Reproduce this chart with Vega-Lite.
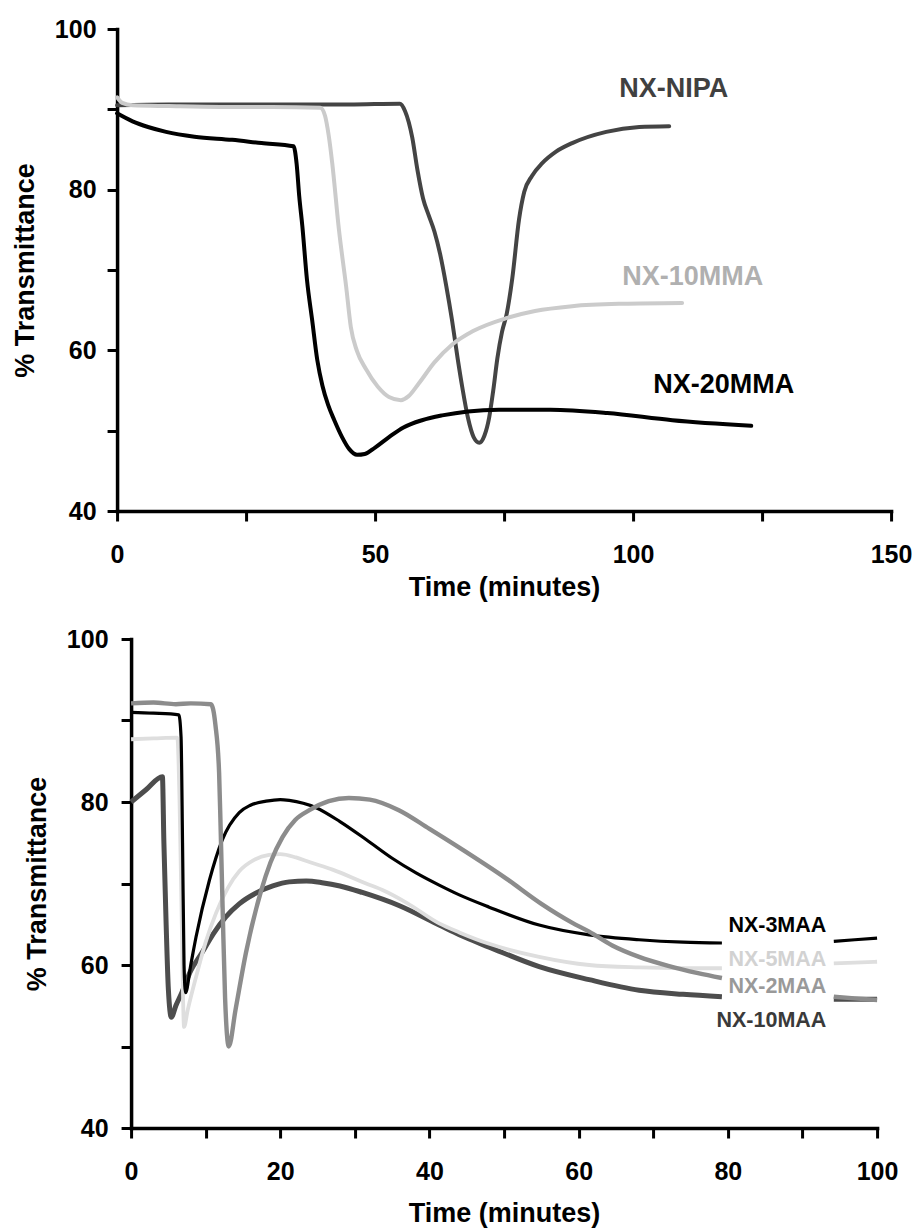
{
"$schema": "https://vega.github.io/schema/vega-lite/v6.json",
"background": "white",
"padding": {"left": 11, "top": 17, "right": 5, "bottom": 5},
"center": true,
"spacing": 27,
"config": {
  "font": "Liberation Sans",
  "view": {"stroke": null},
  "axis": {
    "grid": false,
    "domainColor": "#000000", "domainWidth": 3.5, "domainCap": "square",
    "tickColor": "#000000", "tickWidth": 3, "tickSize": 10,
    "labelFont": "Liberation Sans", "labelFontWeight": "bold", "labelFontSize": 25, "labelColor": "#000000",
    "labelOverlap": false, "labelFlush": false,
    "titleFont": "Liberation Sans", "titleFontWeight": "bold", "titleFontSize": 27, "titleColor": "#000000"
  }
},
"vconcat": [
  {
    "width": 774, "height": 482,
    "encoding": {
      "x": {"field": "t", "type": "quantitative", "title": "Time (minutes)",
            "scale": {"domain": [0, 150], "nice": false, "zero": false},
            "axis": {"values": [0,25,50,75,100,125,150], "labelExpr": "datum.value % 50 == 0 ? datum.label : ''", "labelPadding": 21, "titlePadding": 7}},
      "y": {"field": "v", "type": "quantitative", "title": "% Transmittance",
            "scale": {"domain": [40, 100], "nice": false, "zero": false},
            "axis": {"values": [40,50,60,70,80,90,100], "labelExpr": "datum.value % 20 == 0 ? datum.label : ''", "labelPadding": 11, "titlePadding": 15}}
    },
    "layer": [
      {
        "data": {"values": [
          {"s":"NX-NIPA","t":0,"v":90.5},{"s":"NX-NIPA","t":10,"v":90.6},{"s":"NX-NIPA","t":30,"v":90.6},{"s":"NX-NIPA","t":45,"v":90.6},{"s":"NX-NIPA","t":54.8,"v":90.7},{"s":"NX-NIPA","t":55.8,"v":89.8},{"s":"NX-NIPA","t":57.2,"v":86.5},{"s":"NX-NIPA","t":58.2,"v":82.5},{"s":"NX-NIPA","t":59.3,"v":78.9},{"s":"NX-NIPA","t":60.4,"v":76.8},{"s":"NX-NIPA","t":61.5,"v":74.8},{"s":"NX-NIPA","t":62.6,"v":72.0},{"s":"NX-NIPA","t":63.8,"v":68},{"s":"NX-NIPA","t":64.9,"v":63.8},{"s":"NX-NIPA","t":66,"v":59},{"s":"NX-NIPA","t":66.9,"v":55.4},{"s":"NX-NIPA","t":68,"v":51.6},{"s":"NX-NIPA","t":69.1,"v":49.2},{"s":"NX-NIPA","t":70.2,"v":48.5},{"s":"NX-NIPA","t":71.2,"v":49.4},{"s":"NX-NIPA","t":72.1,"v":51.6},{"s":"NX-NIPA","t":72.9,"v":55},{"s":"NX-NIPA","t":73.7,"v":59},{"s":"NX-NIPA","t":74.6,"v":62.3},{"s":"NX-NIPA","t":75.5,"v":64.5},{"s":"NX-NIPA","t":76.6,"v":69},{"s":"NX-NIPA","t":77.9,"v":76.3},{"s":"NX-NIPA","t":78.9,"v":79.7},{"s":"NX-NIPA","t":80.4,"v":81.7},{"s":"NX-NIPA","t":82.4,"v":83.3},{"s":"NX-NIPA","t":85,"v":84.7},{"s":"NX-NIPA","t":88.2,"v":85.8},{"s":"NX-NIPA","t":94.8,"v":87.2},{"s":"NX-NIPA","t":101.2,"v":87.8},{"s":"NX-NIPA","t":107,"v":87.9},
          {"s":"NX-10MMA","t":0,"v":91.5},{"s":"NX-10MMA","t":1,"v":90.8},{"s":"NX-10MMA","t":3,"v":90.5},{"s":"NX-10MMA","t":10,"v":90.4},{"s":"NX-10MMA","t":20,"v":90.3},{"s":"NX-10MMA","t":30,"v":90.3},{"s":"NX-10MMA","t":39.4,"v":90.2},{"s":"NX-10MMA","t":40.3,"v":89.2},{"s":"NX-10MMA","t":41.0,"v":86.8},{"s":"NX-10MMA","t":41.7,"v":83.3},{"s":"NX-10MMA","t":43,"v":75},{"s":"NX-10MMA","t":44.4,"v":67.9},{"s":"NX-10MMA","t":45.3,"v":62.9},{"s":"NX-10MMA","t":46.5,"v":59.9},{"s":"NX-10MMA","t":48.2,"v":57.7},{"s":"NX-10MMA","t":50.5,"v":55.5},{"s":"NX-10MMA","t":52.7,"v":54.2},{"s":"NX-10MMA","t":55,"v":53.8},{"s":"NX-10MMA","t":56.5,"v":54.3},{"s":"NX-10MMA","t":58.5,"v":55.9},{"s":"NX-10MMA","t":61.5,"v":58.5},{"s":"NX-10MMA","t":64.9,"v":60.7},{"s":"NX-10MMA","t":69,"v":62.4},{"s":"NX-10MMA","t":75.4,"v":64.0},{"s":"NX-10MMA","t":81,"v":64.9},{"s":"NX-10MMA","t":88.2,"v":65.5},{"s":"NX-10MMA","t":98,"v":65.8},{"s":"NX-10MMA","t":109.5,"v":65.9},
          {"s":"NX-20MMA","t":0,"v":89.5},{"s":"NX-20MMA","t":3,"v":88.5},{"s":"NX-20MMA","t":6,"v":87.8},{"s":"NX-20MMA","t":9.5,"v":87.2},{"s":"NX-20MMA","t":15,"v":86.6},{"s":"NX-20MMA","t":22.3,"v":86.2},{"s":"NX-20MMA","t":28,"v":85.8},{"s":"NX-20MMA","t":34.2,"v":85.4},{"s":"NX-20MMA","t":34.8,"v":83.2},{"s":"NX-20MMA","t":35.3,"v":79.2},{"s":"NX-20MMA","t":35.9,"v":75.5},{"s":"NX-20MMA","t":36.8,"v":68.8},{"s":"NX-20MMA","t":37.8,"v":63.8},{"s":"NX-20MMA","t":38.8,"v":58.8},{"s":"NX-20MMA","t":39.8,"v":55.6},{"s":"NX-20MMA","t":40.9,"v":53.2},{"s":"NX-20MMA","t":42.1,"v":51.3},{"s":"NX-20MMA","t":43.6,"v":49.2},{"s":"NX-20MMA","t":45,"v":47.7},{"s":"NX-20MMA","t":46.5,"v":47.0},{"s":"NX-20MMA","t":48,"v":47.1},{"s":"NX-20MMA","t":50,"v":47.9},{"s":"NX-20MMA","t":52.7,"v":49.2},{"s":"NX-20MMA","t":55.5,"v":50.4},{"s":"NX-20MMA","t":59.1,"v":51.3},{"s":"NX-20MMA","t":63,"v":51.9},{"s":"NX-20MMA","t":68,"v":52.4},{"s":"NX-20MMA","t":74,"v":52.6},{"s":"NX-20MMA","t":84,"v":52.6},{"s":"NX-20MMA","t":95,"v":52.2},{"s":"NX-20MMA","t":107.6,"v":51.3},{"s":"NX-20MMA","t":122.9,"v":50.6}
        ]},
        "mark": {"type": "line", "interpolate": "monotone", "strokeWidth": 4, "strokeCap": "round"},
        "encoding": {
          "color": {"field": "s", "type": "nominal", "legend": null,
                    "scale": {"domain": ["NX-NIPA","NX-10MMA","NX-20MMA"], "range": ["#444444","#cbcbcb","#000000"]}}
        }
      },
      {
        "data": {"values": [
          {"s":"NX-NIPA","t":97.3,"v":91.5},
          {"s":"NX-10MMA","t":97.9,"v":68.1},
          {"s":"NX-20MMA","t":103.9,"v":54.7}
        ]},
        "mark": {"type": "text", "align": "left", "baseline": "alphabetic", "fontSize": 27, "fontWeight": "bold", "font": "Liberation Sans"},
        "encoding": {
          "text": {"field": "s"},
          "color": {"field": "s", "type": "nominal", "legend": null,
                    "scale": {"domain": ["NX-NIPA","NX-10MMA","NX-20MMA"], "range": ["#404040","#b0b0b0","#000000"]}}
        }
      }
    ],
    "resolve": {"scale": {"color": "independent"}}
  },
  {
    "width": 746, "height": 489,
    "encoding": {
      "x": {"field": "t", "type": "quantitative", "title": "Time (minutes)",
            "scale": {"domain": [0, 100], "nice": false, "zero": false},
            "axis": {"values": [0,10,20,30,40,50,60,70,80,90,100], "labelExpr": "datum.value % 20 == 0 ? datum.label : ''", "labelPadding": 21, "titlePadding": 16}},
      "y": {"field": "v", "type": "quantitative", "title": "% Transmittance",
            "scale": {"domain": [40, 100], "nice": false, "zero": false},
            "axis": {"values": [40,50,60,70,80,90,100], "labelExpr": "datum.value % 20 == 0 ? datum.label : ''", "labelPadding": 13, "titlePadding": 15}}
    },
    "layer": [
      {
        "data": {"values": [
          {"s":"NX-10MAA","g":"a","t":0,"v":80.0},{"s":"NX-10MAA","g":"a","t":2,"v":81.5},{"s":"NX-10MAA","g":"a","t":4.2,"v":83.1},{"s":"NX-10MAA","g":"a","t":4.4,"v":75},{"s":"NX-10MAA","g":"a","t":4.7,"v":65},{"s":"NX-10MAA","g":"a","t":5.0,"v":57},{"s":"NX-10MAA","g":"a","t":5.4,"v":53.6},{"s":"NX-10MAA","g":"a","t":6.0,"v":55},{"s":"NX-10MAA","g":"a","t":6.8,"v":56.6},{"s":"NX-10MAA","g":"a","t":8,"v":59.3},{"s":"NX-10MAA","g":"a","t":9.5,"v":61.5},{"s":"NX-10MAA","g":"a","t":11,"v":63.8},{"s":"NX-10MAA","g":"a","t":12.7,"v":65.9},{"s":"NX-10MAA","g":"a","t":14.5,"v":67.5},{"s":"NX-10MAA","g":"a","t":16.7,"v":68.8},{"s":"NX-10MAA","g":"a","t":19,"v":69.7},{"s":"NX-10MAA","g":"a","t":21.2,"v":70.2},{"s":"NX-10MAA","g":"a","t":23.5,"v":70.3},{"s":"NX-10MAA","g":"a","t":25.6,"v":70.1},{"s":"NX-10MAA","g":"a","t":28,"v":69.7},{"s":"NX-10MAA","g":"a","t":31,"v":68.9},{"s":"NX-10MAA","g":"a","t":35.9,"v":67.3},{"s":"NX-10MAA","g":"a","t":41.3,"v":64.9},{"s":"NX-10MAA","g":"a","t":44,"v":63.7},{"s":"NX-10MAA","g":"a","t":48,"v":62.2},{"s":"NX-10MAA","g":"a","t":54.7,"v":59.8},{"s":"NX-10MAA","g":"a","t":61.4,"v":58.2},{"s":"NX-10MAA","g":"a","t":68.1,"v":56.9},{"s":"NX-10MAA","g":"a","t":74,"v":56.4},{"s":"NX-10MAA","g":"a","t":79.2,"v":56.1},
          {"s":"NX-10MAA","g":"b","t":94.2,"v":55.8},{"s":"NX-10MAA","g":"b","t":97,"v":55.8},{"s":"NX-10MAA","g":"b","t":100,"v":55.8},
          {"s":"NX-5MAA","g":"a","t":0,"v":87.7},{"s":"NX-5MAA","g":"a","t":3,"v":87.8},{"s":"NX-5MAA","g":"a","t":6.2,"v":87.9},{"s":"NX-5MAA","g":"a","t":6.5,"v":80},{"s":"NX-5MAA","g":"a","t":6.8,"v":65},{"s":"NX-5MAA","g":"a","t":7.1,"v":52.4},{"s":"NX-5MAA","g":"a","t":7.6,"v":54.5},{"s":"NX-5MAA","g":"a","t":8.7,"v":58.5},{"s":"NX-5MAA","g":"a","t":10,"v":62.8},{"s":"NX-5MAA","g":"a","t":11.4,"v":66.4},{"s":"NX-5MAA","g":"a","t":13,"v":69.5},{"s":"NX-5MAA","g":"a","t":14.5,"v":71.5},{"s":"NX-5MAA","g":"a","t":16.5,"v":72.9},{"s":"NX-5MAA","g":"a","t":18.5,"v":73.5},{"s":"NX-5MAA","g":"a","t":20,"v":73.6},{"s":"NX-5MAA","g":"a","t":22.1,"v":73.2},{"s":"NX-5MAA","g":"a","t":24,"v":72.6},{"s":"NX-5MAA","g":"a","t":27,"v":71.7},{"s":"NX-5MAA","g":"a","t":31.5,"v":70.0},{"s":"NX-5MAA","g":"a","t":33.7,"v":69.2},{"s":"NX-5MAA","g":"a","t":37,"v":67.6},{"s":"NX-5MAA","g":"a","t":41.3,"v":65.1},{"s":"NX-5MAA","g":"a","t":44,"v":64.0},{"s":"NX-5MAA","g":"a","t":48,"v":62.6},{"s":"NX-5MAA","g":"a","t":54.7,"v":61.0},{"s":"NX-5MAA","g":"a","t":61.4,"v":60.0},{"s":"NX-5MAA","g":"a","t":68.1,"v":59.7},{"s":"NX-5MAA","g":"a","t":74,"v":59.6},{"s":"NX-5MAA","g":"a","t":79.2,"v":59.6},
          {"s":"NX-5MAA","g":"b","t":94.2,"v":60.2},{"s":"NX-5MAA","g":"b","t":97,"v":60.3},{"s":"NX-5MAA","g":"b","t":100,"v":60.4},
          {"s":"NX-3MAA","g":"a","t":0,"v":91.0},{"s":"NX-3MAA","g":"a","t":3,"v":90.9},{"s":"NX-3MAA","g":"a","t":6.4,"v":90.7},{"s":"NX-3MAA","g":"a","t":6.7,"v":88},{"s":"NX-3MAA","g":"a","t":6.9,"v":75},{"s":"NX-3MAA","g":"a","t":7.1,"v":60},{"s":"NX-3MAA","g":"a","t":7.3,"v":56.6},{"s":"NX-3MAA","g":"a","t":8.0,"v":60},{"s":"NX-3MAA","g":"a","t":8.7,"v":63.4},{"s":"NX-3MAA","g":"a","t":10.5,"v":70.4},{"s":"NX-3MAA","g":"a","t":12.2,"v":75.3},{"s":"NX-3MAA","g":"a","t":14.5,"v":78.7},{"s":"NX-3MAA","g":"a","t":16,"v":79.6},{"s":"NX-3MAA","g":"a","t":18.1,"v":80.1},{"s":"NX-3MAA","g":"a","t":20,"v":80.3},{"s":"NX-3MAA","g":"a","t":21.2,"v":80.2},{"s":"NX-3MAA","g":"a","t":24.8,"v":79.3},{"s":"NX-3MAA","g":"a","t":28,"v":77.6},{"s":"NX-3MAA","g":"a","t":31.5,"v":75.4},{"s":"NX-3MAA","g":"a","t":35,"v":73.1},{"s":"NX-3MAA","g":"a","t":38.2,"v":71.3},{"s":"NX-3MAA","g":"a","t":41.3,"v":69.8},{"s":"NX-3MAA","g":"a","t":44,"v":68.6},{"s":"NX-3MAA","g":"a","t":48,"v":67.1},{"s":"NX-3MAA","g":"a","t":54.7,"v":64.9},{"s":"NX-3MAA","g":"a","t":61.4,"v":63.7},{"s":"NX-3MAA","g":"a","t":68.1,"v":63.1},{"s":"NX-3MAA","g":"a","t":74,"v":62.8},{"s":"NX-3MAA","g":"a","t":79.2,"v":62.7},
          {"s":"NX-3MAA","g":"b","t":94.2,"v":62.9},{"s":"NX-3MAA","g":"b","t":97,"v":63.1},{"s":"NX-3MAA","g":"b","t":100,"v":63.3},
          {"s":"NX-2MAA","g":"a","t":0,"v":92.1},{"s":"NX-2MAA","g":"a","t":3,"v":92.2},{"s":"NX-2MAA","g":"a","t":6,"v":92.0},{"s":"NX-2MAA","g":"a","t":8,"v":92.1},{"s":"NX-2MAA","g":"a","t":10.7,"v":92.0},{"s":"NX-2MAA","g":"a","t":11.3,"v":89.5},{"s":"NX-2MAA","g":"a","t":11.8,"v":83.6},{"s":"NX-2MAA","g":"a","t":12.0,"v":77},{"s":"NX-2MAA","g":"a","t":12.3,"v":66},{"s":"NX-2MAA","g":"a","t":12.6,"v":56},{"s":"NX-2MAA","g":"a","t":13.1,"v":50.0},{"s":"NX-2MAA","g":"a","t":14.0,"v":54.5},{"s":"NX-2MAA","g":"a","t":15.4,"v":61.5},{"s":"NX-2MAA","g":"a","t":17.4,"v":69.0},{"s":"NX-2MAA","g":"a","t":18.7,"v":72.6},{"s":"NX-2MAA","g":"a","t":20.3,"v":75.7},{"s":"NX-2MAA","g":"a","t":22,"v":77.8},{"s":"NX-2MAA","g":"a","t":23.9,"v":79.0},{"s":"NX-2MAA","g":"a","t":26.5,"v":80.1},{"s":"NX-2MAA","g":"a","t":29.2,"v":80.5},{"s":"NX-2MAA","g":"a","t":32,"v":80.3},{"s":"NX-2MAA","g":"a","t":35.9,"v":79.0},{"s":"NX-2MAA","g":"a","t":40,"v":76.7},{"s":"NX-2MAA","g":"a","t":44,"v":74.4},{"s":"NX-2MAA","g":"a","t":50.3,"v":70.6},{"s":"NX-2MAA","g":"a","t":55,"v":67.5},{"s":"NX-2MAA","g":"a","t":59.1,"v":65.2},{"s":"NX-2MAA","g":"a","t":61.4,"v":64.1},{"s":"NX-2MAA","g":"a","t":64.5,"v":62.4},{"s":"NX-2MAA","g":"a","t":68.1,"v":61.0},{"s":"NX-2MAA","g":"a","t":72,"v":59.9},{"s":"NX-2MAA","g":"a","t":76,"v":59.0},{"s":"NX-2MAA","g":"a","t":79.2,"v":58.4},
          {"s":"NX-2MAA","g":"b","t":94.2,"v":56.1},{"s":"NX-2MAA","g":"b","t":97,"v":55.9},{"s":"NX-2MAA","g":"b","t":100,"v":55.7}
        ]},
        "mark": {"type": "line", "interpolate": "monotone"},
        "encoding": {
          "detail": {"field": "g"},
          "color": {"field": "s", "type": "nominal", "legend": null,
                    "scale": {"domain": ["NX-3MAA","NX-5MAA","NX-2MAA","NX-10MAA"], "range": ["#000000","#dedede","#8c8c8c","#4d4d4d"]}},
          "strokeWidth": {"field": "s", "type": "nominal", "legend": null,
                    "scale": {"domain": ["NX-3MAA","NX-5MAA","NX-2MAA","NX-10MAA"], "range": [3.2, 5, 4.5, 3.5]}}
        }
      },
      {
        "data": {"values": [
          {"s":"NX-3MAA","t":93.2,"v":64.05},
          {"s":"NX-5MAA","t":93.2,"v":59.9},
          {"s":"NX-2MAA","t":93.2,"v":56.6},
          {"s":"NX-10MAA","t":93.2,"v":52.4}
        ]},
        "mark": {"type": "text", "align": "right", "baseline": "alphabetic", "fontSize": 21.5, "fontWeight": "bold", "font": "Liberation Sans"},
        "encoding": {
          "text": {"field": "s"},
          "color": {"field": "s", "type": "nominal", "legend": null,
                    "scale": {"domain": ["NX-3MAA","NX-5MAA","NX-2MAA","NX-10MAA"], "range": ["#000000","#d2d2d2","#999999","#3a3a3a"]}}
        }
      }
    ],
    "resolve": {"scale": {"color": "independent"}}
  }
]
}
